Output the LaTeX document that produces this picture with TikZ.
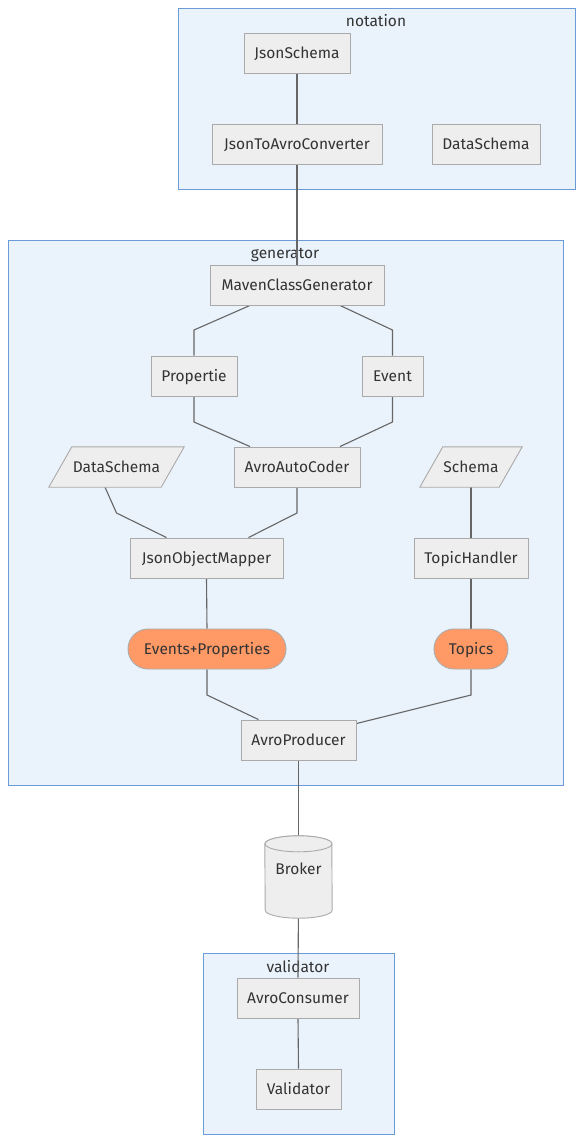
\documentclass[tikz,border=0pt]{standalone}
\usepackage{fontspec}
\setmainfont{Fira Sans}
\definecolor{clfill}{HTML}{EAF2FB}
\definecolor{cldraw}{HTML}{6A9BD6}
\definecolor{nfill}{HTML}{EEEEEE}
\definecolor{ndraw}{HTML}{AAAAAA}
\definecolor{edgec}{HTML}{666666}
\definecolor{txtc}{HTML}{333333}
\definecolor{orangec}{HTML}{FF9A66}
\begin{document}
\begin{tikzpicture}[x=1pt,y=-1pt,
  cluster/.style={draw=cldraw, fill=clfill, line width=0.9pt},
  cllabel/.style={text=txtc, font=\fontsize{15.5}{17}\selectfont, inner sep=0, text height=11pt, text depth=0pt},
  box/.style={draw=ndraw, fill=nfill, line width=0.9pt, minimum height=40pt, inner sep=0, text=txtc, font=\fontsize{15.5}{17}\selectfont, text height=11pt, text depth=0pt},
  stadium/.style={box, fill=orangec, rounded corners=20pt},
  ptext/.style={inner sep=0, minimum height=40pt, text=txtc, font=\fontsize{15.5}{17}\selectfont, text height=11pt, text depth=0pt},
  pshape/.style={draw=ndraw, fill=nfill, line width=0.9pt},
  link/.style={draw=edgec, line width=1.1pt}
]
\useasboundingbox (0,0) rectangle (582,1143);
% clusters
\draw[cluster] (178,8) rectangle (575,189);
\node[cllabel] (lnot) at (376,21) {notation};
\draw[cluster] (8,240) rectangle (563,785);
\node[cllabel] (lgen) at (285,253) {generator};
\draw[cluster] (203,953) rectangle (394,1134);
\node[cllabel] (lval) at (298,967) {validator};

% placeholders for anchors
\node[ptext, minimum width=135pt] (ds2) at (116.5,467) {};
\node[ptext, minimum width=102pt] (sch) at (471,467) {};
\node[inner sep=0, minimum width=67pt, minimum height=66pt] (brk) at (298.5,869) {};
\node[box, draw=none, fill=none, minimum width=106pt] (js) at (297,53) {};
\node[box, draw=none, fill=none, minimum width=170pt] (jtac) at (297,144) {};
\node[box, draw=none, fill=none, minimum width=174pt] (mcg) at (297,285) {};
\node[box, draw=none, fill=none, minimum width=86pt] (prop) at (194,376) {};
\node[box, draw=none, fill=none, minimum width=61pt] (ev) at (392.5,376) {};
\node[box, draw=none, fill=none, minimum width=126pt] (aac) at (297,467) {};
\node[box, draw=none, fill=none, minimum width=153pt] (jom) at (206.5,558) {};
\node[box, draw=none, fill=none, minimum width=114pt] (th) at (471,558) {};
\node[box, draw=none, fill=none, minimum width=158pt] (ep) at (207,649) {};
\node[box, draw=none, fill=none, minimum width=74pt] (tp) at (471,649) {};
\node[box, draw=none, fill=none, minimum width=115pt] (ap) at (298.5,740) {};
\node[box, draw=none, fill=none, minimum width=122pt] (ac) at (298,998) {};
\node[box, draw=none, fill=none, minimum width=85pt] (val) at (298.5,1089) {};

% edges
\path[link] (js.south) -- (jtac.north);
\path[link] (jtac.south) -- (mcg.north);
\path[link] ([xshift=-47pt]mcg.south) -- (194,330) -- (prop.north);
\path[link] ([xshift=43pt]mcg.south) -- (392.5,330) -- (ev.north);
\path[link] (prop.south) -- (194,422) -- ([xshift=-47pt]aac.north);
\path[link] (ev.south) -- (392.5,422) -- ([xshift=43pt]aac.north);
\path[link] ([xshift=-11.5pt]ds2.south) -- (116.5,513) -- ([xshift=-40pt]jom.north);
\path[link] (aac.south) -- (297,513) -- ([xshift=42pt]jom.north);
\path[link] (sch.south) -- (th.north);
\path[link] (jom.south) -- (ep.north);
\path[link] (th.south) -- (tp.north);
\path[link] (ep.south) -- (207,695) -- ([xshift=-40pt]ap.north);
\path[link] (tp.south) -- (471,695) -- ([yshift=-4pt]ap.north east);
\path[link] (ap.south) -- (brk.north);
\path[link] (brk.south) -- (ac.north);
\path[link] (ac.south) -- (val.north);

% visible nodes
\node[box, minimum width=106pt] at (js) {JsonSchema};
\node[box, minimum width=170pt] at (jtac) {JsonToAvroConverter};
\node[box, minimum width=108pt] (dsn) at (486,144) {DataSchema};
\node[box, minimum width=174pt] at (mcg) {MavenClassGenerator};
\node[box, minimum width=86pt] at (prop) {Propertie};
\node[box, minimum width=61pt] at (ev) {Event};
\node[box, minimum width=126pt] at (aac) {AvroAutoCoder};
\node[box, minimum width=153pt] at (jom) {JsonObjectMapper};
\node[box, minimum width=114pt] at (th) {TopicHandler};
\node[stadium, minimum width=158pt] at (ep) {Events+Properties};
\node[stadium, minimum width=74pt] at (tp) {Topics};
\node[box, minimum width=115pt] at (ap) {AvroProducer};
\node[box, minimum width=122pt] at (ac) {AvroConsumer};
\node[box, minimum width=85pt] at (val) {Validator};

% parallelograms
\draw[pshape] ([xshift=23pt]ds2.north west) -- (ds2.north east) -- ([xshift=-23pt]ds2.south east) -- (ds2.south west) -- cycle;
\node[ptext] at (ds2) {DataSchema};
\draw[pshape] ([xshift=23pt]sch.north west) -- (sch.north east) -- ([xshift=-23pt]sch.south east) -- (sch.south west) -- cycle;
\node[ptext] at (sch) {Schema};

% cylinder
\draw[pshape] (brk.north west) ++(0,8) arc[x radius=33.5, y radius=8, start angle=180, end angle=360]
  -- ([yshift=-8pt]brk.south east) arc[x radius=33.5, y radius=8, start angle=0, end angle=180] -- cycle;
\draw[pshape] ([yshift=-8pt]brk.north) ellipse[x radius=33.5, y radius=8];
\node[ptext] at (brk) {Broker};
\end{tikzpicture}
\end{document}
